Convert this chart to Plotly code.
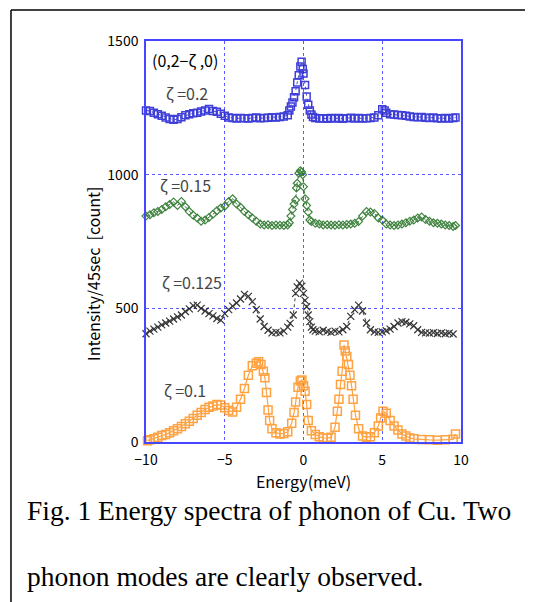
import plotly.graph_objects as go

# zeta = 0.2 (blue squares)
e_02 = [-10, -9.75, -9.5, -9.25, -9, -8.75, -8.5, -8.25, -8, -7.75, -7.5, -7.25, -7, -6.75, -6.5,
        -6.25, -6, -5.75, -5.5, -5.25, -5, -4.75, -4.5, -4.25, -4, -3.75, -3.5, -3.25, -3, -2.75,
        -2.5, -2.25, -2, -1.75, -1.5, -1.25, -1, -0.9, -0.8, -0.7, -0.6, -0.5, -0.4, -0.3, -0.2,
        -0.12, -0.05, 0, 0.1, 0.2, 0.3, 0.4, 0.5, 0.6, 0.75, 1, 1.25, 1.5, 1.75, 2, 2.25, 2.5,
        2.75, 3, 3.25, 3.5, 3.75, 4, 4.25, 4.5, 4.75, 5, 5.15, 5.25, 5.5, 5.75, 6, 6.25, 6.5,
        6.75, 7, 7.25, 7.5, 7.75, 8, 8.25, 8.5, 8.75, 9, 9.25, 9.5, 9.65]
i_02 = [1240, 1238, 1232, 1226, 1220, 1214, 1208, 1205, 1208, 1215, 1222, 1226, 1230, 1232, 1236,
        1240, 1246, 1238, 1235, 1228, 1220, 1214, 1212, 1210, 1212, 1211, 1210, 1212, 1214, 1211,
        1212, 1213, 1215, 1214, 1216, 1218, 1222, 1240, 1255, 1270, 1290, 1312, 1345, 1372, 1405,
        1422, 1395, 1378, 1335, 1292, 1262, 1240, 1225, 1216, 1212, 1210, 1211, 1209, 1212, 1210,
        1212, 1209, 1211, 1213, 1210, 1212, 1210, 1211, 1212, 1214, 1222, 1245, 1240, 1232, 1226,
        1225, 1223, 1222, 1220, 1218, 1216, 1215, 1216, 1213, 1212, 1214, 1211, 1210, 1212, 1210,
        1212, 1214]

# zeta = 0.15 (green diamonds)
e_015 = [-10, -9.75, -9.5, -9.25, -9, -8.75, -8.5, -8.25, -8, -7.75, -7.5, -7.25, -7, -6.75, -6.5,
         -6.25, -6, -5.75, -5.5, -5.25, -5, -4.75, -4.5, -4.25, -4, -3.75, -3.5, -3.25, -3, -2.75,
         -2.5, -2.25, -2, -1.75, -1.5, -1.25, -1, -0.9, -0.8, -0.7, -0.6, -0.5, -0.45, -0.4, -0.3,
         -0.2, -0.12, -0.05, 0, 0.1, 0.2, 0.3, 0.4, 0.5, 0.75, 1, 1.25, 1.5, 1.75, 2, 2.25, 2.5,
         2.75, 3, 3.25, 3.5, 3.75, 4, 4.25, 4.5, 4.75, 5, 5.25, 5.5, 5.75, 6, 6.25, 6.5, 6.75, 7,
         7.25, 7.5, 7.75, 8, 8.25, 8.5, 8.75, 9, 9.25, 9.5, 9.65]
i_015 = [845, 850, 858, 862, 870, 880, 888, 898, 885, 900, 880, 862, 848, 838, 826,
         830, 840, 852, 865, 875, 882, 900, 910, 890, 878, 862, 850, 838, 826, 815,
         812, 813, 810, 812, 811, 810, 812, 820, 845, 870, 890, 905, 950, 968, 1005,
         1015, 1010, 1000, 955, 910, 885, 860, 830, 825, 818, 815, 812, 813, 812, 811, 813, 812,
         814, 815, 818, 825, 845, 862, 860, 855, 838, 830, 815, 812, 810, 812, 815, 820, 826, 830,
         838, 842, 832, 826, 820, 818, 815, 812, 810, 806, 810]

# zeta = 0.125 (black crosses)
e_0125 = [-10, -9.75, -9.5, -9.25, -9, -8.75, -8.5, -8.25, -8, -7.75, -7.5, -7.25, -7, -6.75, -6.5,
          -6.25, -6, -5.75, -5.5, -5.25, -5, -4.75, -4.5, -4.25, -4, -3.75, -3.5, -3.25, -3, -2.75,
          -2.5, -2.25, -2, -1.75, -1.5, -1.25, -1, -0.85, -0.65, -0.5, -0.4, -0.25, -0.1, 0, 0.1,
          0.2, 0.3, 0.4, 0.5, 0.6, 0.75, 1, 1.25, 1.5, 1.75, 2, 2.25, 2.5, 2.75, 3, 3.25, 3.5,
          3.75, 4, 4.25, 4.5, 4.75, 5, 5.25, 5.5, 5.75, 6, 6.25, 6.5, 6.75, 7, 7.25, 7.5, 7.75, 8,
          8.25, 8.5, 8.75, 9, 9.25, 9.5]
i_0125 = [405, 415, 422, 430, 438, 445, 452, 460, 468, 475, 488, 498, 510, 512, 500,
          490, 480, 472, 462, 456, 480, 495, 508, 520, 535, 552, 545, 525, 495, 460,
          432, 418, 408, 410, 408, 415, 430, 444, 475, 556, 580, 594, 583, 556, 530,
          506, 475, 450, 430, 420, 415, 412, 418, 413, 410, 415, 412, 420, 432, 470, 495, 512,
          490, 445, 420, 412, 410, 412, 416, 422, 432, 445, 450, 448, 442, 435, 420, 410, 408, 407,
          409, 406, 408, 405, 407, 404]

# zeta = 0.1 (orange squares)
e_01 = [-9.9, -9.75, -9.5, -9.25, -9, -8.75, -8.5, -8.25, -8, -7.75, -7.5, -7.25, -7, -6.75, -6.5,
        -6.25, -6, -5.75, -5.5, -5.25, -5, -4.75, -4.5, -4.25, -4, -3.75, -3.5, -3.25, -3, -2.85,
        -2.7, -2.55, -2.45, -2.35, -2.25, -2.15, -2, -1.75, -1.5, -1.25, -1, -0.75, -0.6, -0.5,
        -0.35, -0.2, -0.1, 0, 0.1, 0.2, 0.3, 0.5, 0.75, 1, 1.25, 1.5, 1.75, 2, 2.15, 2.25, 2.35,
        2.45, 2.57, 2.65, 2.75, 2.85, 2.95, 3.05, 3.15, 3.3, 3.5, 3.75, 4, 4.25, 4.5, 4.75, 4.9,
        5.05, 5.25, 5.5, 5.75, 6, 6.25, 6.5, 6.75, 7, 7.5, 8, 8.5, 9, 9.5, 9.65]
i_01 = [5, 8, 12, 18, 24, 28, 35, 42, 50, 58, 68, 78, 88, 100, 110,
        122, 130, 135, 140, 138, 128, 118, 112, 130, 160, 200, 250, 285, 295, 300,
        290, 265, 240, 185, 120, 80, 50, 35, 30, 32, 38, 70, 110, 150,
        205, 228, 232, 210, 190, 140, 80, 42, 28, 20, 15, 14, 18, 55, 115, 160, 215,
        265, 363, 340, 320, 290, 250, 210, 160, 100, 50, 22, 18, 20, 35, 60, 90,
        115, 108, 80, 60, 45, 30, 22, 15, 12, 9, 8, 7, 8, 10, 30]

fig = go.Figure()

fig.add_trace(go.Scatter(x=e_02, y=i_02, mode='lines+markers', cliponaxis=False,
                         line=dict(color='rgb(40,40,210)', width=1, dash='dot'),
                         marker=dict(symbol='square-open', size=7, color='rgb(30,30,210)',
                                     line=dict(width=1.5)), opacity=0.85))
fig.add_trace(go.Scatter(x=e_015, y=i_015, mode='lines+markers', cliponaxis=False,
                         line=dict(color='rgb(20,100,20)', width=1, dash='dot'),
                         marker=dict(symbol='diamond-open', size=6, color='rgb(30,110,30)',
                                     line=dict(width=1.2)), opacity=0.85))
fig.add_trace(go.Scatter(x=e_0125, y=i_0125, mode='lines+markers', cliponaxis=False,
                         line=dict(color='rgb(30,30,30)', width=1, dash='dot'),
                         marker=dict(symbol='x-thin-open', size=7, color='rgb(20,20,20)',
                                     line=dict(width=1.2, color='rgb(20,20,20)')), opacity=0.85))
fig.add_trace(go.Scatter(x=e_01, y=i_01, mode='lines+markers', cliponaxis=False,
                         line=dict(color='rgb(255,140,20)', width=1.2),
                         marker=dict(symbol='square-open', size=8, color='rgb(255,140,20)',
                                     line=dict(width=1.5)), opacity=0.8))

# series labels inside the plot
labels = [(-7.55, 1430, '(0,2−ζ\u00a0,0)', 'black'),
          (-7.4, 1306, 'ζ\u00a0=0.2', 'rgb(70,70,70)'),
          (-7.5, 961, 'ζ\u00a0=0.15', 'rgb(70,70,70)'),
          (-7.1, 599, 'ζ\u00a0=0.125', 'rgb(70,70,70)'),
          (-7.5, 195, 'ζ\u00a0=0.1', 'rgb(70,70,70)')]
for x, y, t, c in labels:
    fig.add_annotation(x=x, y=y, text=t, showarrow=False,
                       font=dict(family='Noto Sans CJK JP', size=16, color=c))

# y title
fig.add_annotation(xref='paper', yref='paper', x=-0.17, y=0.42, xanchor='center', yanchor='middle',
                   text='Intensity/45sec\u00a0\u00a0[count]', textangle=-90, showarrow=False,
                   font=dict(family='Noto Sans CJK JP', size=16, color='black'))

# caption
cap_font = dict(family='Liberation Serif', size=27.5, color='black')
fig.add_annotation(xref='paper', yref='paper', x=-0.384, y=-0.172, xanchor='left', yanchor='middle',
                   text='Fig. 1 Energy spectra of phonon of Cu. Two', showarrow=False, font=cap_font)
fig.add_annotation(xref='paper', yref='paper', x=-0.384, y=-0.335, xanchor='left', yanchor='middle',
                   text='phonon modes are clearly observed.', showarrow=False, font=cap_font)

# outer frame (top + left)
fig.add_shape(type='line', xref='paper', yref='paper', x0=-0.4286, x1=1.25, y0=1.0773, y1=1.0773,
              line=dict(color='black', width=1.5))
fig.add_shape(type='line', xref='paper', yref='paper', x0=-0.4286, x1=-0.4286, y0=1.0773, y1=-0.42,
              line=dict(color='black', width=1.5))

axis_common = dict(showline=True, mirror=True, linecolor='rgb(70,70,255)', linewidth=1.5,
                   showgrid=True, gridcolor='rgb(90,90,255)', griddash='dot', gridwidth=1,
                   zeroline=False, ticks='', tickfont=dict(family='Noto Sans CJK JP', size=14, color='black'))

fig.update_xaxes(range=[-10, 10], tickvals=[-10, -5, 0, 5, 10], ticklabelstandoff=4,
                 title=dict(text='Energy(meV)', font=dict(family='Noto Sans CJK JP', size=16, color='black'),
                            standoff=0),
                 **axis_common)
fig.update_yaxes(range=[0, 1500], tickvals=[0, 500, 1000, 1500], ticklabelstandoff=3, **axis_common)

# page body has an 8px margin, so the figure is 8px smaller and margins shifted
fig.update_layout(width=525, height=594, showlegend=False,
                  plot_bgcolor='white', paper_bgcolor='white',
                  margin=dict(l=138, r=72, t=33, b=160))

fig.write_html("out.html")
